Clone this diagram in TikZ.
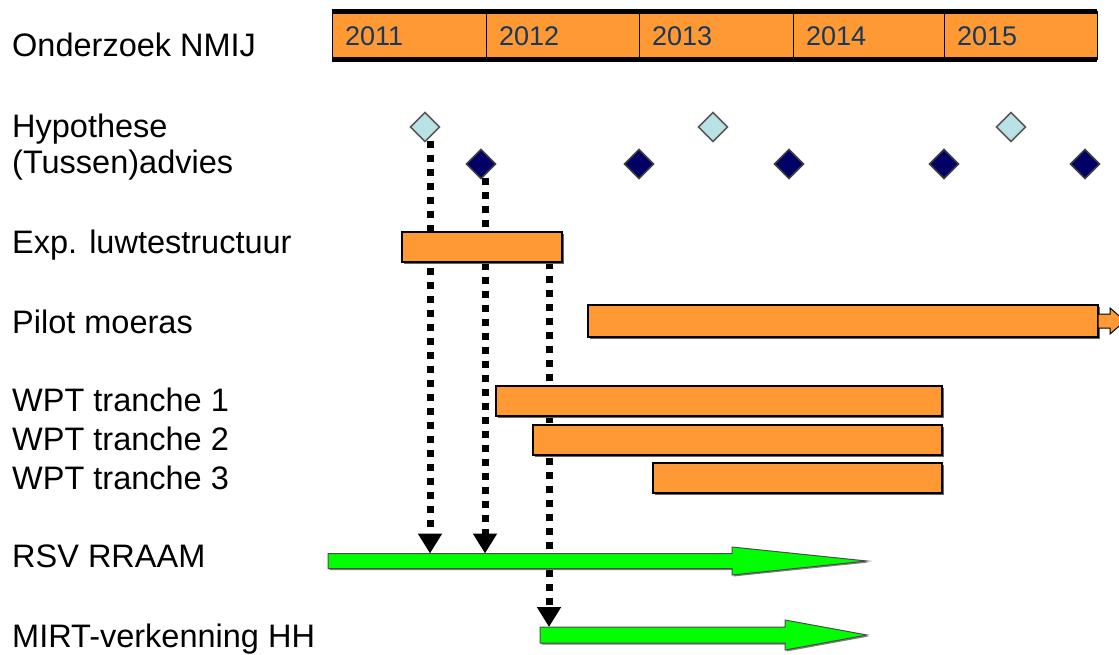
\documentclass[tikz,border=0pt]{standalone}
\usepackage{fontspec}
\setmainfont{Liberation Sans}
\usetikzlibrary{shapes.geometric,arrows.meta,shadows,calc}
\definecolor{barorange}{HTML}{FF9933}
\definecolor{arrowgreen}{HTML}{00FF00}
\definecolor{hyplight}{RGB}{184,226,230}
\definecolor{advnavy}{RGB}{0,0,102}
\definecolor{yeartext}{RGB}{23,55,94}
\pgfdeclarelayer{bg}
\pgfsetlayers{bg,main}
\begin{document}
\begin{tikzpicture}[x=1pt,y=-1pt,
  lbl/.style={anchor=base west, inner sep=0, font=\fontsize{32.5}{36}\selectfont},
  yr/.style={anchor=base west, inner sep=0, text=yeartext, font=\fontsize{27}{30}\selectfont},
  cell/.style={draw=black, line width=1pt, fill=barorange, inner sep=0, outer sep=0,
    anchor=north west, minimum height=48pt},
  bar/.style={draw=black, line width=1.3pt, fill=barorange, inner sep=0, outer sep=0,
    anchor=north west, minimum height=30pt,
    drop shadow={shadow xshift=1.8pt, shadow yshift=-1.8pt, fill=black!60, opacity=1}},
  shaft/.style={inner sep=0, outer sep=0, anchor=north west},
  greenarrow/.style={fill=arrowgreen, draw=black!70, line width=1pt, line join=miter,
    drop shadow={shadow xshift=1.5pt, shadow yshift=-1.5pt, fill=black!50, opacity=1}},
  hyp/.style={diamond, draw=black!65, line width=1.5pt, fill=hyplight, inner sep=0,
    outer sep=0, minimum width=29pt, minimum height=29pt},
  adv/.style={diamond, draw=black!75, line width=1.5pt, fill=advnavy, inner sep=0,
    outer sep=0, minimum width=29pt, minimum height=29pt},
  dotarrow/.style={line width=7pt, dash pattern=on 7pt off 7pt,
    -{Triangle[width=23pt,length=20pt]}},
]
\useasboundingbox (0,0) rectangle (1119,655);

% row labels
\node[lbl] (l0) at (12,57)  {Onderzoek NMIJ};
\node[lbl] (l1) at (12,138) {Hypothese};
\node[lbl] (l2) at (12,174) {(Tussen)advies};
\node[lbl] (l3) at (12,253) {Exp. luwtestructuur};
\node[lbl] (l4) at (12,333) {Pilot moeras};
\node[lbl] (l5) at (12,411) {WPT tranche 1};
\node[lbl] (l6) at (12,450) {WPT tranche 2};
\node[lbl] (l7) at (12,489) {WPT tranche 3};
\node[lbl] (l8) at (12,567) {RSV RRAAM};
\node[lbl] (l9) at (12,647) {MIRT-verkenning HH};

% year scale
\node[cell, minimum width=154pt] (y1) at (332,12) {};
\node[cell, minimum width=153pt] (y2) at (486,12) {};
\node[cell, minimum width=154pt] (y3) at (639,12) {};
\node[cell, minimum width=151pt] (y4) at (793,12) {};
\node[cell, minimum width=153pt] (y5) at (944,12) {};
\draw[line width=5pt] (y1.north west) -- (y5.north east);
\draw[line width=5pt] (y1.south west) -- (y5.south east);
\node[yr] (t1) at ($(y1.south west)+(13,-14)$) {2011};
\node[yr] (t2) at ($(y2.south west)+(13,-14)$) {2012};
\node[yr] (t3) at ($(y3.south west)+(13,-14)$) {2013};
\node[yr] (t4) at ($(y4.south west)+(13,-14)$) {2014};
\node[yr] (t5) at ($(y5.south west)+(13,-14)$) {2015};

% milestones
\node[hyp] (h1) at (425,127) {};
\node[hyp] (h2) at (713,127) {};
\node[hyp] (h3) at (1011,127) {};
\node[adv] (a1) at (481,164) {};
\node[adv] (a2) at (639,164) {};
\node[adv] (a3) at (789,164) {};
\node[adv] (a4) at (944,164) {};
\node[adv] (a5) at (1085,164) {};

% activity bars
\node[bar, minimum width=160pt] (exp) at (402,232) {};
\node[bar, minimum width=510pt, minimum height=32pt] (pilot) at (588,305) {};
\draw[fill=barorange, draw=black, line width=1pt]
  ($(pilot.east)+(0,-7)$) -- ++(12,0) -- ++(0,-6) -- ++(15,13)
  -- ++(-15,13) -- ++(0,-6) -- ++(-12,0) -- cycle;
\node[bar, minimum width=446pt] (wpt1) at (496,386) {};
\node[bar, minimum width=409pt] (wpt2) at (533,425) {};
\node[bar, minimum width=289pt] (wpt3) at (653,463) {};

% decision tracks
\node[shaft, minimum width=404pt, minimum height=15pt] (rsv) at (328,553.5) {};
\draw[greenarrow] (rsv.north west) -- (rsv.north east) -- ++(0,-6.5)
  -- ($(rsv.east)+(135,0)$) -- ($(rsv.south east)+(0,6.5)$)
  -- (rsv.south east) -- (rsv.south west) -- cycle;
\node[shaft, minimum width=245pt, minimum height=16pt] (mirt) at (540,627) {};
\draw[greenarrow] (mirt.north west) -- (mirt.north east) -- ++(0,-7)
  -- ($(mirt.east)+(82,0)$) -- ($(mirt.south east)+(0,7)$)
  -- (mirt.south east) -- (mirt.south west) -- cycle;

% dependencies
\begin{pgfonlayer}{bg}
\draw[dotarrow] ($(h1.south)+(5,0)$) -- ($(h1.south |- rsv.north)+(5,0)$);
\draw[dotarrow] ($(a1.south)+(4,0)$) -- ($(a1.south |- rsv.north)+(4,0)$);
\draw[dotarrow] ($(exp.south east)+(-13,0)$) -- ($(exp.south east |- mirt.north)+(-13,0)$);
\end{pgfonlayer}
\end{tikzpicture}
\end{document}
